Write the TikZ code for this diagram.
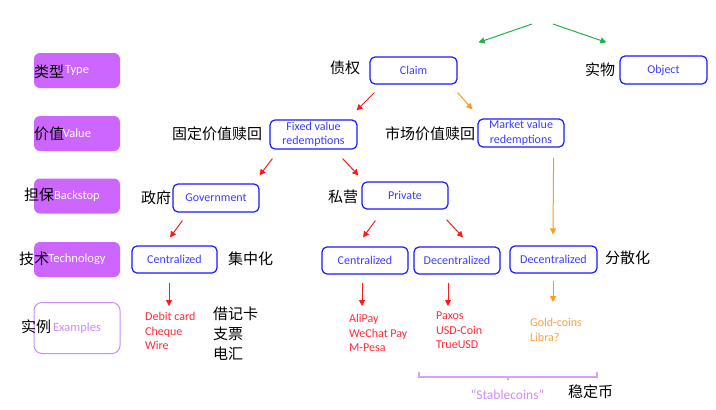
\documentclass[tikz,border=0pt]{standalone}
\usepackage{fontspec}
\setmainfont{Carlito}
\newfontfamily\cjk{Noto Sans CJK SC}
\usetikzlibrary{arrows.meta}
\definecolor{catpurple}{HTML}{CC66FF}
\definecolor{expurple}{HTML}{D08CFA}
\definecolor{boxblue}{HTML}{1A1AFF}
\definecolor{txtblue}{HTML}{3D3DFF}
\definecolor{myred}{HTML}{FF1A1A}
\definecolor{txtred}{HTML}{FF2A3A}
\definecolor{myorange}{HTML}{FF9A1A}
\definecolor{txtorange}{HTML}{FFA040}
\definecolor{mygreen}{HTML}{22B050}
\definecolor{bracepurple}{HTML}{D9A0F5}
\tikzset{
  cat/.style={fill=catpurple, rounded corners=6pt, text=white, minimum width=86pt, minimum height=35pt, inner sep=0pt, font=\fontsize{12.5}{14}\selectfont},
  exbox/.style={draw=expurple, line width=1pt, fill=white, rounded corners=8pt, text=expurple, minimum width=86pt, minimum height=51pt, inner sep=0pt, font=\fontsize{12.5}{14}\selectfont},
  bx/.style={draw=boxblue, line width=1.2pt, rounded corners=5pt, text=txtblue, minimum width=86pt, minimum height=27pt, inner sep=0pt, align=center, font=\fontsize{12}{14.5}\selectfont},
  cn/.style={font=\cjk\fontsize{15}{20}\selectfont, inner sep=0pt, anchor=west, align=left},
  lst/.style={inner sep=0pt, anchor=north west, align=left, font=\fontsize{12}{14.5}\selectfont},
  arr/.style={-{Triangle[length=6pt,width=6pt]}, line width=1pt}
}
\begin{document}
\begin{tikzpicture}[x=1pt,y=-1pt]
\useasboundingbox[fill=white] (0,0) rectangle (716,410);

% category column
\node[cat] (typebox) at (77,70.5) {Type};
\node[cat] (valuebox) at (77,133.5) {Value};
\node[cat] (backbox) at (77,196) {Backstop};
\node[cat] (techbox) at (77,259.5) {Technology};
\node[exbox] (exbox) at (77,328) {Examples};
\node[cn] (typecn) at (34,72) {类型};
\node[cn] (valuecn) at (34,134) {价值};
\node[cn] (backcn) at (24,195) {担保};
\node[cn] (techcn) at (19,259) {技术};
\node[cn] (excn) at (21,327) {实例};

% boxes
\node[bx, minimum width=87pt] (claim) at (413.5,70.5) {Claim};
\node[bx, minimum width=87pt, minimum height=28pt] (object) at (663.5,70) {Object};
\node[bx, minimum width=87pt, minimum height=29pt] (fixed) at (313.5,134.5) {Fixed value\\redemptions};
\node[bx, minimum height=28pt] (market) at (521,133) {Market value\\redemptions};
\node[bx, minimum height=28pt] (gov) at (216,198) {Government};
\node[bx] (private) at (405,195.5) {Private};
\node[bx, minimum width=85pt] (cent1) at (174.5,259.5) {Centralized};
\node[bx] (cent2) at (365,260.5) {Centralized};
\node[bx] (dec1) at (457,260.5) {Decentralized};
\node[bx, minimum width=87pt] (dec2) at (553.5,259.5) {Decentralized};

% chinese labels
\node[cn] (claimcn) at (330,68) {债权};
\node[cn] (objectcn) at (585,70) {实物};
\node[cn] (fixedcn) at (172,134) {固定价值赎回};
\node[cn] (marketcn) at (385,134) {市场价值赎回};
\node[cn] (govcn) at (141,198) {政府};
\node[cn] (privcn) at (328,197) {私营};
\node[cn] (cent1cn) at (228,259) {集中化};
\node[cn] (dec2cn) at (605,258) {分散化};
\node[cn] (debitcn) at (213,334) {借记卡\\支票\\电汇};

% example lists
\node[lst, text=txtred] (debit) at (145,312) {Debit card\\Cheque\\Wire};
\node[lst, text=txtred] (alipay) at (349,314) {AliPay\\WeChat Pay\\M-Pesa};
\node[lst, text=txtred] (paxos) at (436,312) {Paxos\\USD-Coin\\TrueUSD};
\node[lst, text=txtorange] (gold) at (530,318) {Gold-coins\\Libra?};

% top arrows
\coordinate (gtop) at (542.5,24);
\draw[arr, mygreen] ([shift={(-10.5,0)}]gtop) -- ([shift={(21,-14)}]claim.north east);
\draw[arr, mygreen] ([shift={(10.5,0)}]gtop) -- ([shift={(-13,-13)}]object.north west);

\draw[arr, myred] ([shift={(5,8)}]claim.south west) -- ([shift={(-1,-9)}]fixed.north east);
\draw[arr, myorange] ([shift={(0,8)}]claim.south east) -- ([shift={(-5,-9)}]market.north west);

\draw[arr, myred] ([shift={(3,9)}]fixed.south west) -- ([shift={(0,-8)}]gov.north east);
\draw[arr, myred] ([shift={(-15,9)}]fixed.south east) -- ([shift={(-3,-6)}]private.north west);

\draw[arr, myorange] ([shift={(-11,10)}]market.south east) -- ([shift={(-0.5,-11)}]dec2.north);

\draw[arr, myred] ([shift={(10,8)}]gov.south west) -- ([shift={(-4.5,-8)}]cent1.north);
\draw[arr, myred] ([shift={(14,11)}]private.south west) -- ([shift={(-2,-9)}]cent2.north);
\draw[arr, myred] ([shift={(-2,10)}]private.south east) -- ([shift={(6,-9)}]dec1.north);

\draw[arr, myred] ([shift={(-5.5,9)}]cent1.south) -- ([shift={(24,-6)}]debit.north west);
\draw[arr, myred] ([shift={(-3,8)}]cent2.south) -- ([shift={(13,-8)}]alipay.north west);
\draw[arr, myred] ([shift={(-9,8)}]dec1.south) -- ([shift={(12,-6)}]paxos.north west);
\draw[arr, myorange] ([shift={(-0.5,7)}]dec2.south) -- ([shift={(23,-16)}]gold.north west);

% brace
\draw[bracepurple, line width=1.3pt] (419,372) -- (419,377) -- (597,377) -- (597,372);
\draw[bracepurple, line width=1.3pt] (508,377) -- (508,380);
\node[inner sep=0pt, text=expurple, font=\fontsize{13.5}{16}\selectfont] (stable) at (507.5,395) {“Stablecoins”};
\node[cn] (stablecn) at (568,392) {稳定币};
\end{tikzpicture}
\end{document}
